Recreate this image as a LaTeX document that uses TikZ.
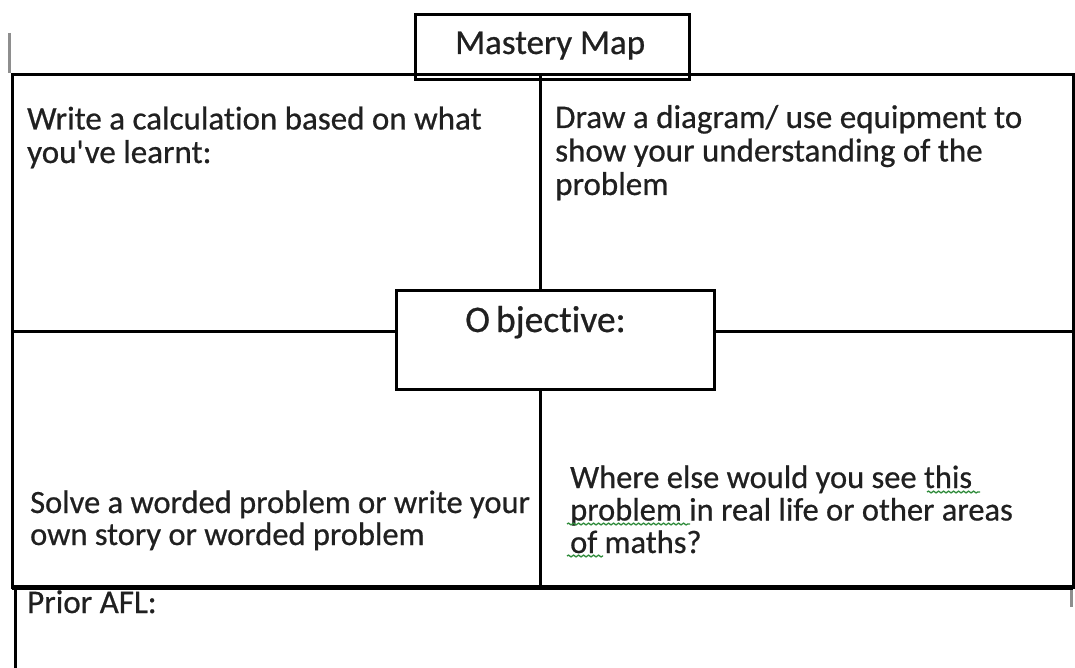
\documentclass[tikz,border=0pt]{standalone}
\usepackage{fontspec}
\setmainfont{Carlito}[Ligatures={ResetAll,NoCommon},FakeBold=0.6]
\newfontface\aposfont{Carlito}[FakeBold=0.6]
\usetikzlibrary{decorations.pathmorphing}
\definecolor{ink}{HTML}{202020}
\definecolor{tickgray}{HTML}{8E8E8E}
\definecolor{spellgreen}{HTML}{2E8B3A}

\begin{document}
\begin{tikzpicture}[x=1pt,y=-1pt,
  frame/.style={draw=black,line width=3pt,inner sep=0pt,outer sep=0pt},
  label/.style={anchor=base west,inner sep=0pt,align=left,text=ink,
                font=\fontsize{33}{33.5}\selectfont},
  title/.style={label,font=\fontsize{35}{35}\selectfont},
  squiggle/.style={draw=spellgreen,line width=1.3pt,decorate,
                   decoration={snake,amplitude=0.9pt,segment length=5pt}},
  tickmark/.style={draw=tickgray,line width=3pt}]
\useasboundingbox (0,0) rectangle (1075,668);
\fill[white] (0,0) rectangle (1075,668);

% outer grid of the four quadrants
\node[frame,minimum width=1061pt,minimum height=512pt,anchor=north west] (grid) at (12,75) {};
\coordinate (dtop) at (540,75);
\coordinate (dbot) at (540,588);
\coordinate (hleft) at (12,331);
\coordinate (hright) at (1073,331);

% central objective box
\node[frame,fill=white,minimum width=318pt,minimum height=99pt] (obj) at (555,339.5) {};

% dividers meet the objective box
\draw[line width=3pt] (dtop) -- (dtop |- obj.north);
\draw[line width=3pt] (obj.south -| dbot) -- (dbot);
\draw[line width=3pt] (hleft) -- (hleft -| obj.west);
\draw[line width=3pt] (obj.east |- hright) -- (hright);

% heavier bottom edge of the grid
\draw[line width=5pt] (grid.south west) -- (grid.south east);

% title box over the top edge
\node[frame,minimum width=274pt,minimum height=65pt,anchor=north west] (title) at (415,15) {};

% Prior AFL strip, open at the bottom
\coordinate (afltop) at (15,590);
\coordinate (aflbot) at (15,672);
\draw[line width=3pt] (afltop) -- (aflbot);

% small gray margin marks
\coordinate (tka) at (9,33);
\coordinate (tkb) at (9,73);
\coordinate (tkc) at (1071,590);
\coordinate (tkd) at (1071,607);
\draw[tickmark] (tka) -- (tkb);
\draw[tickmark] (tkc) -- (tkd);

% texts (multi-line nodes are placed by the baseline of their last line)
\node[title] (ttitle) at (455,54) {Mastery Map};
\node[label,font=\fontsize{37.5}{37.5}\selectfont] (tobj) at (465,332) {O\kern6pt bjective:};
\node[label] (tq1) at (27,163) {Write a calculation based on what\\you{\aposfont'}\kern1pt ve learnt:};
\node[label] (tq2) at (555,195) {Draw a diagram/ use equipment to\\show your understanding of the\\problem};
\node[label,font=\fontsize{32.5}{32}\selectfont] (tq3) at (30,545) {Solve a worded problem or write your\\own story or worded problem};
\node[label,font=\fontsize{32.5}{32.5}\selectfont] (tq4) at (570,553) {Where else would you see this\\problem in real life or other areas\\of maths?};
\node[label] (tafl) at (27,613) {Prior AFL:};

% spell-check marks
\coordinate (sqa) at (927,492);
\coordinate (sqb) at (980,492);
\coordinate (sqc) at (567,524);
\coordinate (sqd) at (690,524);
\coordinate (sqe) at (567,556);
\coordinate (sqf) at (603,556);
\draw[squiggle] (sqa) -- (sqb);
\draw[squiggle] (sqc) -- (sqd);
\draw[squiggle] (sqe) -- (sqf);
\end{tikzpicture}
\end{document}
